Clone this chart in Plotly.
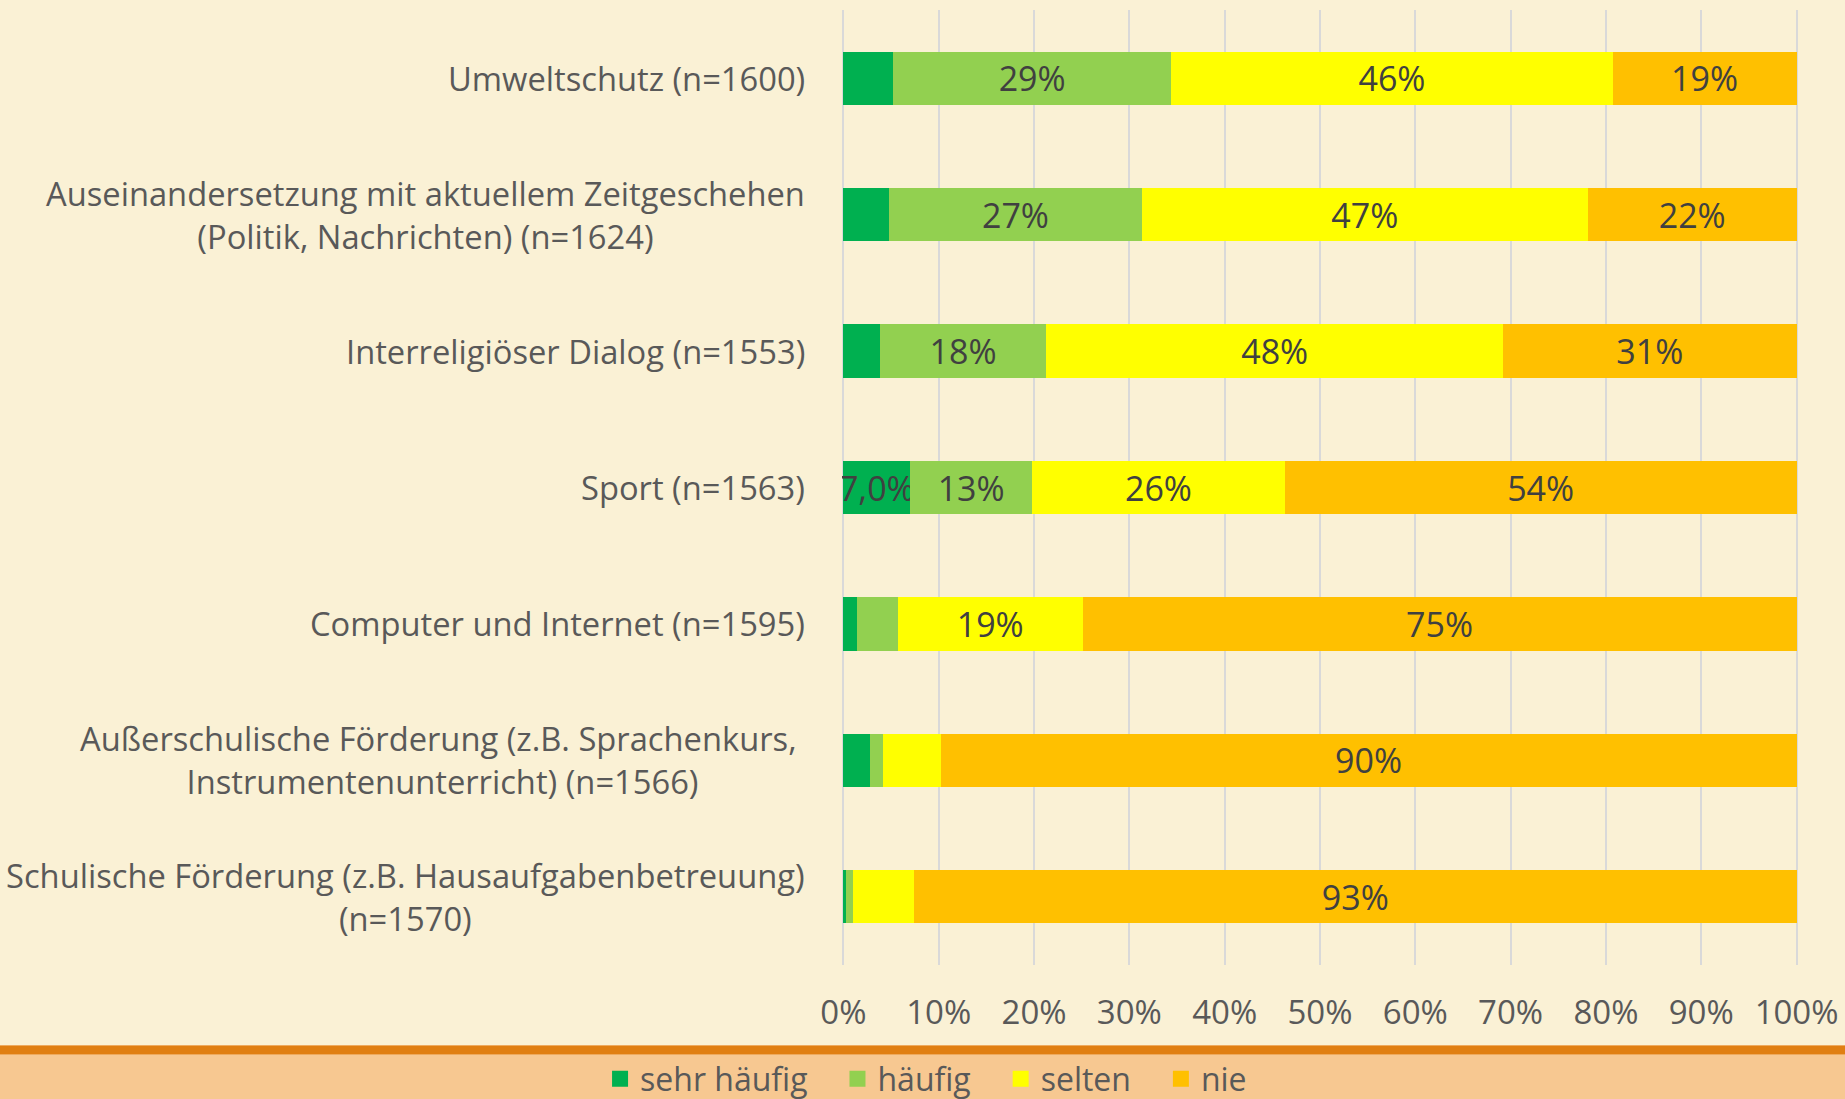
import plotly.graph_objects as go

categories = [
    "Umweltschutz (n=1600)",
    "Auseinandersetzung mit aktuellem Zeitgeschehen<br>(Politik, Nachrichten) (n=1624)",
    "Interreligiöser Dialog (n=1553)",
    "Sport (n=1563)",
    "Computer und Internet (n=1595)",
    "Außerschulische Förderung (z.B. Sprachenkurs, <br>Instrumentenunterricht) (n=1566)",
    "Schulische Förderung (z.B. Hausaufgabenbetreuung)<br>(n=1570)",
]

sehr_haeufig = [5.2, 4.8, 3.8, 7.0, 1.4, 2.8, 0.3]
haeufig = [29.2, 26.5, 17.5, 12.8, 4.3, 1.3, 0.7]
selten = [46.3, 46.8, 47.9, 26.5, 19.4, 6.1, 6.4]
nie = [19.3, 21.9, 30.8, 53.7, 74.9, 89.8, 92.6]

sehr_labels = ["", "", "", "7,0%", "", "", ""]
haeufig_labels = ["29%", "27%", "18%", "13%", "", "", ""]
selten_labels = ["46%", "47%", "48%", "26%", "19%", "", ""]
nie_labels = ["19%", "22%", "31%", "54%", "75%", "90%", "93%"]

tick_vals = [0, 10, 20, 30, 40, 50, 60, 70, 80, 90, 100]
tick_text = ["0%", "10%", "20%", "30%", "40%", "50%", "60%", "70%", "80%", "90%", "100%"]

series = [
    ("sehr häufig", sehr_haeufig, sehr_labels, "#00B050"),
    ("häufig", haeufig, haeufig_labels, "#92D050"),
    ("selten", selten, selten_labels, "#FFFF00"),
    ("nie", nie, nie_labels, "#FFC000"),
]

FONT = "Open Sans, Noto Sans, sans-serif"
BG = "#FAF1D5"
NBSP = "\u00a0"

fig = go.Figure()
for name, vals, labels, color in series:
    fig.add_trace(go.Bar(
        y=categories, x=vals, name=name, orientation="h",
        marker=dict(color=color, line=dict(width=0)),
        text=labels, textposition="inside", insidetextanchor="middle",
        textangle=0, constraintext="none",
        textfont=dict(family=FONT, size=34, color="#404040"),
        hoverinfo="x+name", showlegend=False,
    ))

# legend entries (larger square symbols)
for name, vals, labels, color in series:
    fig.add_trace(go.Scatter(
        x=[None], y=[None], mode="markers", name=name + NBSP * 3,
        marker=dict(symbol="square", size=20, color=color),
        showlegend=True, hoverinfo="skip",
    ))

annotations = []
for c in categories:
    annotations.append(dict(
        x=0, xref="paper", y=c, yref="y", xanchor="right", yanchor="middle",
        xshift=-35, text=c, showarrow=False, align="center",
        font=dict(family=FONT, size=32.7, color="#595959"),
    ))

# pixel helper for the bottom band (plot area from y=10 to y=965)
def py(p):
    return (965 - p) / 955.0

shapes = [
    dict(type="rect", xref="paper", yref="paper", x0=-1, x1=2, y0=py(1047), y1=py(1110),
         fillcolor="#F7C891", line=dict(width=0), layer="below"),
    dict(type="rect", xref="paper", yref="paper", x0=-1, x1=2, y0=py(1045), y1=py(1055),
         fillcolor="#EEAA5E", line=dict(width=0), layer="below"),
    dict(type="rect", xref="paper", yref="paper", x0=-1, x1=2, y0=py(1046), y1=py(1054),
         fillcolor="#E07F12", line=dict(width=0), layer="below"),
]

fig.update_layout(
    width=1845, height=1099,
    margin=dict(l=842, r=47, t=10, b=134, autoexpand=False),
    paper_bgcolor=BG, plot_bgcolor=BG,
    barmode="stack", bargap=0.61,
    xaxis=dict(range=[-0.15, 100.15], tickvals=tick_vals, ticktext=tick_text,
               showgrid=True, gridcolor="#D9D9D9", gridwidth=2,
               zeroline=False, showline=False,
               ticks="outside", ticklen=18, tickcolor="rgba(0,0,0,0)",
               tickfont=dict(family=FONT, size=33, color="#595959"),
               fixedrange=True, automargin=False),
    yaxis=dict(autorange="reversed", showticklabels=False, showgrid=False,
               zeroline=False, showline=False, fixedrange=True, automargin=False),
    showlegend=True,
    legend=dict(orientation="h", x=0.101, xanchor="center", y=py(1079), yanchor="middle",
                font=dict(family=FONT, size=32, color="#595959"),
                bgcolor="rgba(0,0,0,0)", traceorder="normal", itemclick=False,
                itemsizing="trace"),
    annotations=annotations,
    shapes=shapes,
)

fig.write_html("out.html", config={"displayModeBar": False})

with open("out.html", "r", encoding="utf-8") as f:
    html = f.read()
html = html.replace("<body>", '<body style="margin:0;padding:0;overflow:hidden">', 1)
with open("out.html", "w", encoding="utf-8") as f:
    f.write(html)
